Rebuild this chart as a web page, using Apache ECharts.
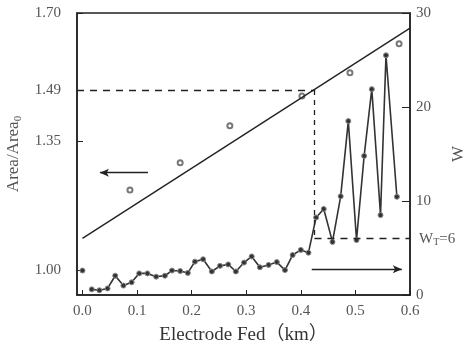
<!DOCTYPE html>
<html>
<head>
<meta charset="utf-8">
<script src="https://cdn.jsdelivr.net/npm/echarts@6/dist/echarts.min.js"></script>
<style>
html,body{margin:0;padding:0;background:#fff;}
#chart{width:468px;height:346px;}
</style>
</head>
<body>
<div id="chart"></div>
<script>
// W (right axis) measurements along the electrode
var wX = [0.017,0.031,0.046,0.060,0.075,0.090,0.104,0.119,0.135,0.151,0.164,0.179,0.193,0.206,0.221,0.237,0.252,0.267,0.281,0.296,0.310,0.325,0.341,0.356,0.371,0.385,0.400,0.414,0.428,0.442,0.458,0.473,0.487,0.502,0.516,0.530,0.546,0.556,0.576];
var wVal = [0.6,0.5,0.7,2.05,1.0,1.35,2.3,2.3,1.95,2.05,2.6,2.55,2.35,3.55,3.8,2.5,3.1,3.25,2.5,3.45,4.1,2.95,3.2,3.5,2.65,4.25,4.8,4.5,8.25,9.15,5.65,10.5,18.5,5.85,14.8,21.9,8.5,25.5,10.45];
var wFirst = [0.0, 2.6];

// Area/Area0 (left axis)
var areaX = [0.087,0.179,0.270,0.402,0.490,0.580];
var areaVal = [1.218,1.292,1.393,1.474,1.537,1.616];

// fitted straight line
var fitX = [0, 0.6];
var fitVal = [1.086, 1.659];

var xTicks = [0,0.1,0.2,0.3,0.4,0.5,0.6];
var leftTicks = [1.00,1.35,1.49,1.70];
var areaMark = 1.49, wMark = 6, xMark = 0.425;

var font = '"Liberation Serif","DejaVu Serif",serif';
var cjk = '"Liberation Serif","Noto Sans CJK SC",serif';
var ink = '#222', muted = '#555';

var wData = [wFirst, [0.008,'-']].concat(wX.map(function(x,i){return [x,wVal[i]];}));
var areaData = areaX.map(function(x,i){return [x,areaVal[i]];});
var fitData = fitX.map(function(x,i){return [x,fitVal[i]];});

var chart = echarts.init(document.getElementById('chart'), null, {renderer:'canvas'});
chart.setOption({
  animation:false,
  backgroundColor:'#fff',
  grid:{left:77,right:58,top:13,bottom:51,containLabel:false,outerBoundsMode:'none',
    show:true,borderColor:ink,borderWidth:1.5},
  xAxis:{
    type:'value',min:-0.01,max:0.6,
    name:'Electrode Fed（km）',nameLocation:'middle',nameGap:31,
    nameTextStyle:{fontFamily:cjk,fontSize:19,color:'#333'},
    axisLine:{onZero:false,lineStyle:{color:ink,width:1.5}},
    axisTick:{inside:true,length:5,customValues:xTicks,lineStyle:{color:ink}},
    axisLabel:{customValues:xTicks,fontFamily:font,fontSize:15,color:muted,margin:9,
      formatter:function(v){return v.toFixed(1);}},
    splitLine:{show:false}
  },
  yAxis:[{
    type:'value',min:0.932,max:1.70,position:'left',
    name:'Area/Area{s|0}',nameLocation:'middle',nameRotate:90,nameGap:52,
    nameTextStyle:{fontFamily:font,fontSize:17,color:muted,rich:{s:{fontFamily:font,fontSize:11,color:muted,padding:[9,0,0,0]}}},
    axisLine:{show:true,onZero:false,lineStyle:{color:ink,width:1.5}},
    axisTick:{inside:true,length:6,customValues:leftTicks,lineStyle:{color:ink}},
    axisLabel:{customValues:leftTicks,fontFamily:font,fontSize:15,color:muted,margin:16,
      formatter:function(v){return v.toFixed(2);}},
    splitLine:{show:false}
  },{
    type:'value',min:0,max:30,interval:10,position:'right',
    name:'W',nameLocation:'middle',nameRotate:90,nameGap:40,
    nameTextStyle:{fontFamily:font,fontSize:17,color:muted},
    axisLine:{show:true,onZero:false,lineStyle:{color:ink,width:1.5}},
    axisTick:{inside:true,length:8,lineStyle:{color:ink}},
    axisLabel:{fontFamily:font,fontSize:15,color:muted,margin:6},
    splitLine:{show:false}
  }],
  series:[
    {
      type:'line',yAxisIndex:1,data:wData,connectNulls:false,
      symbol:'circle',symbolSize:5,showAllSymbol:true,
      lineStyle:{color:'#333',width:1.6},
      itemStyle:{color:'#333',borderColor:'#888',borderWidth:1},
      markLine:{
        silent:true,animation:false,
        data:[
          [{coord:[xMark,wMark],symbol:'none',lineStyle:{type:[7,6],color:ink,width:1.3}},
           {coord:[0.6,wMark],symbol:'none',
            label:{show:true,position:'end',distance:9,formatter:'W{s|T}=6',
              fontFamily:font,fontSize:15,color:muted,
              rich:{s:{fontFamily:font,fontSize:10,color:muted,padding:[7,0,0,0]}}}}],
          [{coord:[0.42,2.73],symbol:'none',lineStyle:{type:'solid',color:ink,width:1.3}},
           {coord:[0.585,2.73],symbol:'arrow',symbolSize:[6,9]}]
        ],
        label:{show:false}
      }
    },
    {
      type:'scatter',data:areaData,symbol:'emptyCircle',symbolSize:5,
      itemStyle:{color:'#555',borderWidth:1.2},
      markLine:{
        silent:true,animation:false,label:{show:false},
        data:[
          [{coord:[-0.01,areaMark],symbol:'none',lineStyle:{type:[7,6],color:ink,width:1.3}},
           {coord:[xMark,areaMark],symbol:'none'}],
          [{coord:[xMark,areaMark],symbol:'none',lineStyle:{type:[5,5],color:ink,width:1.3}},
           {coord:[xMark,1.0815],symbol:'none'}],
          [{coord:[0.12,1.265],symbol:'none',lineStyle:{type:'solid',color:ink,width:1.3}},
           {coord:[0.032,1.265],symbol:'arrow',symbolSize:[6,9]}]
        ]
      }
    },
    {
      type:'line',data:fitData,symbol:'none',
      lineStyle:{color:ink,width:1.4}
    }
  ]
});
</script>
</body>
</html>
